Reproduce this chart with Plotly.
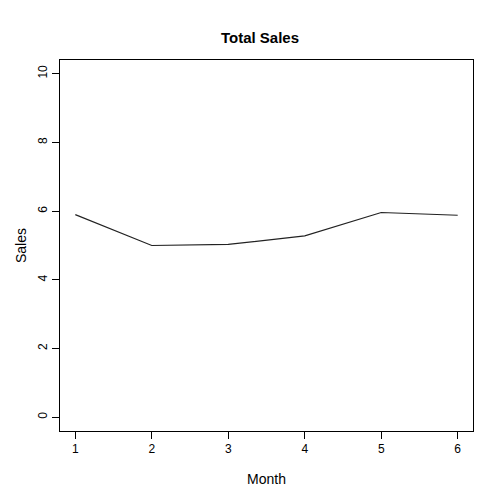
import plotly.graph_objects as go

months = [1, 2, 3, 4, 5, 6]
sales = [5.90, 5.00, 5.03, 5.28, 5.96, 5.88]

fig = go.Figure(go.Scatter(x=months, y=sales, mode="lines",
                           line=dict(color="#222222", width=1.2)))
fig.update_layout(
    width=504, height=504, paper_bgcolor="white", plot_bgcolor="white",
    margin=dict(l=52, r=39, t=52, b=81, autoexpand=False), showlegend=False,
    font=dict(family="Liberation Sans, Arial", size=12, color="black"),
    title=dict(text="<b>Total Sales</b>", x=0.5, xanchor="center", y=0.94,
               yanchor="middle", font=dict(size=15)),
)
axis = dict(showgrid=False, zeroline=False, showline=True, mirror=True,
            linecolor="black", linewidth=1, ticks="outside", ticklen=7,
            tickcolor="black")
fig.update_xaxes(**axis, range=[0.8, 6.2], tickvals=months,
                 title=dict(text="Month", standoff=18))
fig.update_yaxes(**axis, range=[-0.4, 10.4], tickvals=[0, 2, 4, 6, 8, 10],
                 tickangle=-90, title=dict(text="Sales", standoff=6))
fig.write_html("out.html")
